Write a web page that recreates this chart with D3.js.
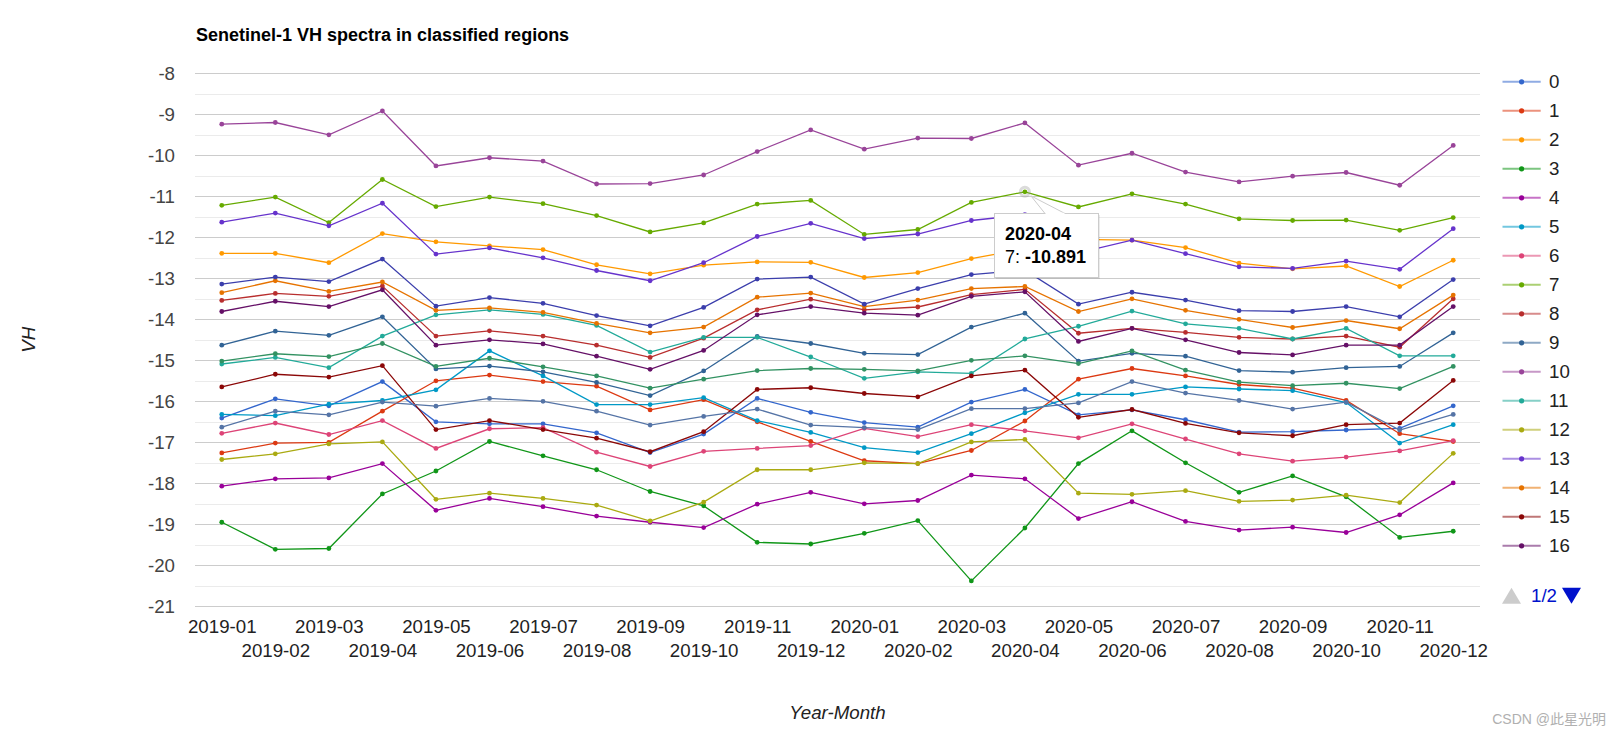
<!DOCTYPE html>
<html>
<head>
<meta charset="utf-8">
<script src="https://cdn.jsdelivr.net/npm/d3@7"></script>
<style>
html,body{margin:0;padding:0;background:#fff;}
svg{display:block;font-family:Arial,"Liberation Sans",sans-serif;}
</style>
</head>
<body>
<svg id="chart" width="1617" height="743"></svg>
<script>
const months = ["2019-01","2019-02","2019-03","2019-04","2019-05","2019-06","2019-07","2019-08","2019-09","2019-10","2019-11","2019-12",
"2020-01","2020-02","2020-03","2020-04","2020-05","2020-06","2020-07","2020-08","2020-09","2020-10","2020-11","2020-12"];
const yTicks = [-8,-9,-10,-11,-12,-13,-14,-15,-16,-17,-18,-19,-20,-21];
const seriesNames = ["0","1","2","3","4","5","6","7","8","9","10","11","12","13","14","15","16","17","18","19"];
const seriesColors = ["#3366cc","#dc3912","#ff9900","#109618","#990099","#0099c6","#dd4477","#66aa00","#b82e2e","#316395",
"#994499","#22aa99","#aaaa11","#6633cc","#e67300","#8b0707","#651067","#329262","#5574a6","#3b3eac"];

const s0 = [-16.41,-15.94,-16.11,-15.52,-16.50,-16.55,-16.55,-16.77,-17.25,-16.80,-15.93,-16.27,-16.52,-16.63,-16.02,-15.71,-16.33,-16.21,-16.45,-16.75,-16.74,-16.70,-16.66,-16.11];
const s1 = [-17.26,-17.02,-17.00,-16.24,-15.50,-15.36,-15.52,-15.63,-16.21,-15.96,-16.50,-16.98,-17.45,-17.52,-17.20,-16.48,-15.46,-15.20,-15.38,-15.59,-15.68,-15.98,-16.79,-16.98];
const s2 = [-12.39,-12.39,-12.62,-11.91,-12.11,-12.21,-12.30,-12.67,-12.89,-12.68,-12.60,-12.61,-12.98,-12.86,-12.52,-12.28,-12.05,-12.07,-12.25,-12.63,-12.77,-12.70,-13.20,-12.56];
const s3 = [-18.95,-19.61,-19.59,-18.26,-17.70,-16.98,-17.33,-17.67,-18.20,-18.55,-19.44,-19.48,-19.22,-18.91,-20.38,-19.09,-17.52,-16.72,-17.50,-18.22,-17.82,-18.33,-19.32,-19.17];
const s4 = [-18.07,-17.89,-17.87,-17.52,-18.66,-18.37,-18.57,-18.80,-18.95,-19.08,-18.51,-18.22,-18.50,-18.42,-17.80,-17.89,-18.86,-18.45,-18.93,-19.14,-19.07,-19.20,-18.77,-17.99];
const s5 = [-16.32,-16.35,-16.07,-15.98,-15.72,-14.77,-15.38,-16.08,-16.08,-15.91,-16.47,-16.76,-17.13,-17.25,-16.79,-16.28,-15.83,-15.83,-15.65,-15.70,-15.74,-16.03,-17.02,-16.57];
const s6 = [-16.78,-16.53,-16.81,-16.47,-17.15,-16.67,-16.64,-17.24,-17.59,-17.22,-17.15,-17.08,-16.66,-16.86,-16.57,-16.72,-16.89,-16.55,-16.92,-17.28,-17.46,-17.36,-17.21,-16.96];
const s7 = [-11.22,-11.02,-11.64,-10.59,-11.25,-11.02,-11.18,-11.47,-11.87,-11.65,-11.19,-11.10,-11.93,-11.81,-11.15,-10.891,-11.26,-10.94,-11.19,-11.55,-11.59,-11.58,-11.83,-11.52];
const s8 = [-13.54,-13.37,-13.44,-13.19,-14.41,-14.28,-14.41,-14.63,-14.93,-14.46,-13.77,-13.51,-13.77,-13.70,-13.40,-13.27,-14.34,-14.22,-14.32,-14.44,-14.48,-14.41,-14.68,-13.50];
const s9 = [-14.63,-14.29,-14.39,-13.94,-15.21,-15.14,-15.28,-15.54,-15.86,-15.26,-14.42,-14.59,-14.83,-14.86,-14.19,-13.85,-15.02,-14.83,-14.90,-15.25,-15.29,-15.18,-15.15,-14.33];
const s10 = [-9.24,-9.20,-9.50,-8.92,-10.26,-10.06,-10.14,-10.70,-10.69,-10.48,-9.91,-9.38,-9.85,-9.58,-9.59,-9.21,-10.24,-9.95,-10.41,-10.65,-10.51,-10.42,-10.73,-9.76];
const s11 = [-15.09,-14.93,-15.18,-14.41,-13.89,-13.77,-13.88,-14.15,-14.80,-14.44,-14.44,-14.92,-15.44,-15.28,-15.32,-14.48,-14.17,-13.80,-14.11,-14.22,-14.48,-14.22,-14.89,-14.89];
const s12 = [-17.42,-17.28,-17.04,-16.99,-18.39,-18.24,-18.37,-18.53,-18.92,-18.46,-17.67,-17.67,-17.50,-17.52,-16.99,-16.93,-18.24,-18.27,-18.18,-18.44,-18.41,-18.29,-18.47,-17.27];
const s13 = [-11.63,-11.41,-11.72,-11.17,-12.41,-12.26,-12.50,-12.81,-13.06,-12.62,-11.98,-11.66,-12.03,-11.92,-11.59,-11.45,-12.38,-12.07,-12.40,-12.72,-12.76,-12.58,-12.78,-11.79];
const s14 = [-13.35,-13.06,-13.32,-13.09,-13.78,-13.72,-13.83,-14.10,-14.33,-14.19,-13.46,-13.36,-13.69,-13.53,-13.25,-13.20,-13.81,-13.50,-13.78,-14.00,-14.20,-14.03,-14.23,-13.41];
const s15 = [-15.65,-15.34,-15.41,-15.13,-16.69,-16.47,-16.69,-16.90,-17.23,-16.74,-15.71,-15.67,-15.81,-15.89,-15.38,-15.24,-16.39,-16.20,-16.54,-16.77,-16.84,-16.57,-16.53,-15.49];
const s16 = [-13.81,-13.56,-13.69,-13.28,-14.63,-14.50,-14.60,-14.90,-15.22,-14.76,-13.89,-13.69,-13.85,-13.90,-13.44,-13.33,-14.54,-14.22,-14.50,-14.81,-14.87,-14.63,-14.63,-13.69];
const s17 = [-15.02,-14.84,-14.91,-14.59,-15.15,-14.95,-15.16,-15.38,-15.68,-15.46,-15.25,-15.20,-15.22,-15.26,-15.00,-14.89,-15.08,-14.77,-15.24,-15.53,-15.62,-15.56,-15.69,-15.15];
const s18 = [-16.63,-16.24,-16.33,-16.02,-16.12,-15.93,-16.00,-16.24,-16.58,-16.37,-16.19,-16.58,-16.64,-16.69,-16.18,-16.18,-16.04,-15.52,-15.80,-15.98,-16.19,-16.02,-16.70,-16.32];
const s19 = [-13.14,-12.97,-13.08,-12.53,-13.68,-13.47,-13.61,-13.91,-14.16,-13.71,-13.02,-12.97,-13.63,-13.25,-12.91,-12.80,-13.63,-13.34,-13.53,-13.79,-13.81,-13.69,-13.94,-13.03];

const seriesValues = [s0,s1,s2,s3,s4,s5,s6,s7,s8,s9,s10,s11,s12,s13,s14,s15,s16,s17,s18,s19];
const legendCount = 17;
const tooltipSeries = 7, tooltipIndex = 15;

(function draw() {
  const FONT = 18.7;
  const svg = d3.select("#chart");
  const pL = 195, pR = 1480, pT = 73.3, pB = 606.3;

  const x = d3.scalePoint().domain(months).range([pL, pR]).padding(0.5);
  const y = d3.scaleLinear().domain([-21, -8]).range([pB, pT]);

  // gridlines (major + minor)
  const gridVals = d3.range(-21, -7.99, 0.5);
  svg.append("g").selectAll("line").data(gridVals).join("line")
    .attr("x1", pL).attr("x2", pR)
    .attr("y1", d => Math.round(y(d)) + 0.5).attr("y2", d => Math.round(y(d)) + 0.5)
    .attr("stroke", d => Number.isInteger(d) ? "#cccccc" : "#ebebeb")
    .attr("stroke-width", 1);

  // y axis labels (plain hyphen minus like the original)
  const yAxis = svg.append("g").attr("transform", "translate(175,0)")
    .call(d3.axisLeft(y).tickValues(yTicks).tickSize(0).tickPadding(0).tickFormat(d => String(d)));
  yAxis.select(".domain").remove();
  yAxis.selectAll("text").attr("font-size", FONT).attr("fill", "#444").attr("font-family", "Arial, 'Liberation Sans', sans-serif");

  // x axis labels (staggered)
  const xAxis = svg.append("g")
    .call(d3.axisBottom(x).tickSize(0).tickPadding(0));
  xAxis.select(".domain").remove();
  xAxis.selectAll("text").attr("font-size", FONT).attr("fill", "#222")
    .attr("font-family", "Arial, 'Liberation Sans', sans-serif")
    .attr("dy", null)
    .attr("y", (d, i) => i % 2 === 0 ? 632.5 : 656.5);

  // lines
  const line = d3.line().x((d, i) => x(months[i])).y(d => y(d));
  const plot = svg.append("g");
  seriesValues.forEach((vals, si) => {
    const g = plot.append("g");
    g.append("path").datum(vals).attr("d", line)
      .attr("fill", "none").attr("stroke", seriesColors[si]).attr("stroke-width", 1.3);
    g.selectAll("circle").data(vals).join("circle")
      .attr("cx", (d, i) => x(months[i])).attr("cy", d => y(d)).attr("r", 2.4)
      .attr("fill", seriesColors[si]);
  });

  // hovered point ring
  const hx = x(months[tooltipIndex]), hy = y(seriesValues[tooltipSeries][tooltipIndex]);
  svg.append("circle").attr("cx", hx).attr("cy", hy).attr("r", 4.5)
    .attr("fill", "none").attr("stroke", "#999").attr("stroke-opacity", 0.35).attr("stroke-width", 3);

  // title
  svg.append("text").attr("x", 196).attr("y", 40.5).attr("font-size", 18).attr("font-weight", "bold")
    .attr("fill", "#000").text("Senetinel-1 VH spectra in classified regions");

  // axis titles
  svg.append("text").attr("x", (pL + pR) / 2).attr("y", 719).attr("text-anchor", "middle")
    .attr("font-size", FONT).attr("font-style", "italic").attr("fill", "#222").text("Year-Month");
  svg.append("text").attr("transform", `translate(35,${(pT + pB) / 2}) rotate(-90)`).attr("text-anchor", "middle")
    .attr("font-size", FONT).attr("font-style", "italic").attr("fill", "#222").text("VH");

  // legend
  const lg = svg.append("g");
  for (let i = 0; i < legendCount; i++) {
    const ly = 81.8 + 29 * i;
    lg.append("line").attr("x1", 1502.5).attr("x2", 1540.7).attr("y1", ly).attr("y2", ly)
      .attr("stroke", seriesColors[i]).attr("stroke-width", 2).attr("stroke-opacity", 0.55);
    lg.append("circle").attr("cx", 1521.6).attr("cy", ly).attr("r", 2.6).attr("fill", seriesColors[i]);
    lg.append("text").attr("x", 1549).attr("y", ly).attr("dy", "0.35em").attr("font-size", FONT)
      .attr("fill", "#222").text(seriesNames[i]);
  }
  // paging
  const py = 595.7;
  lg.append("path").attr("d", `M1502,${py + 8} L1521,${py + 8} L1511.5,${py - 8} Z`).attr("fill", "#cccccc");
  lg.append("text").attr("x", 1531).attr("y", py).attr("dy", "0.35em").attr("font-size", FONT)
    .attr("fill", "#0011cc").text("1/2");
  lg.append("path").attr("d", `M1562,${py - 8} L1581,${py - 8} L1571.5,${py + 8} Z`).attr("fill", "#0011cc");

  // tooltip
  const tt = svg.append("g");
  tt.append("rect").attr("x", 996).attr("y", 215).attr("width", 104).attr("height", 64).attr("fill", "#000").attr("opacity", 0.08);
  tt.append("path").attr("d", `M${hx + 6},${hy + 4} L1045,213.5 L1065,213.5 Z`).attr("fill", "#fff").attr("stroke", "#cccccc");
  tt.append("rect").attr("x", 994.5).attr("y", 213.5).attr("width", 104).attr("height", 64).attr("fill", "#fff").attr("stroke", "#cccccc");
  tt.append("line").attr("x1", 1045.5).attr("x2", 1064.5).attr("y1", 213.5).attr("y2", 213.5).attr("stroke", "#fff").attr("stroke-width", 1.5);
  tt.append("text").attr("x", 1005).attr("y", 240).attr("font-size", 18).attr("font-weight", "bold").attr("fill", "#000").text(months[tooltipIndex]);
  const t2 = tt.append("text").attr("x", 1005).attr("y", 263).attr("font-size", 18).attr("fill", "#000");
  t2.append("tspan").text(seriesNames[tooltipSeries] + ": ");
  t2.append("tspan").attr("font-weight", "bold").text(seriesValues[tooltipSeries][tooltipIndex].toFixed(3));

  // watermark
  svg.append("text").attr("x", 1606).attr("y", 724).attr("text-anchor", "end")
    .attr("font-size", 14).attr("fill", "#b0b0b0")
    .attr("font-family", "Arial, 'Noto Sans CJK SC', sans-serif").text("CSDN @此星光明");
})();
</script>
</body>
</html>
